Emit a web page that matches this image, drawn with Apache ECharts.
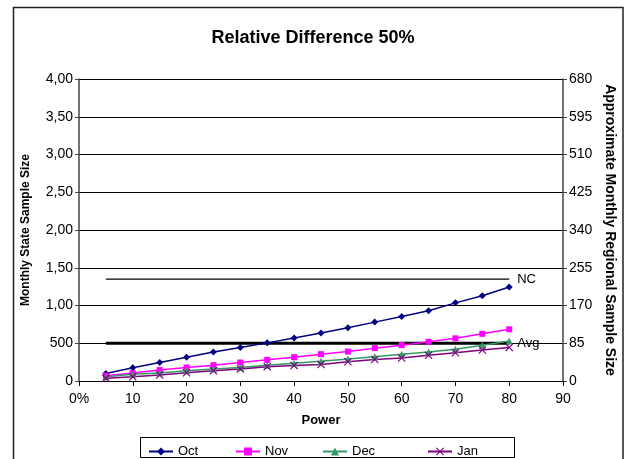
<!DOCTYPE html>
<html>
<head>
<meta charset="utf-8">
<script src="https://cdn.jsdelivr.net/npm/echarts@6/dist/echarts.min.js"></script>
<style>
  html, body { margin: 0; padding: 0; background: #fff; }
  #main { width: 626px; height: 459px; }
</style>
</head>
<body>
<div id="main"></div>
<script>
var myChart = echarts.init(document.getElementById('main'));

// power levels (x) and monthly state sample sizes
var powers = [5, 10, 15, 20, 25, 30, 35, 40, 45, 50, 55, 60, 65, 70, 75, 80];
var oct = [100, 175, 245, 315, 385, 445, 505, 570, 635, 705, 780, 855, 930, 1035, 1130, 1245];
var nov = [70, 105, 145, 180, 210, 245, 280, 315, 355, 390, 435, 475, 520, 565, 625, 685];
var dec = [55, 90, 105, 135, 160, 180, 210, 235, 260, 290, 320, 355, 385, 420, 475, 530];
var jan = [35, 55, 80, 110, 135, 160, 190, 205, 220, 255, 285, 305, 340, 375, 410, 445];
var refRange = [5, 80];
var ncLevel = 1350;
var avgLevel = 500;

// tick labels as printed (left ones are cut off in the original)
var leftTicks = ['0', '500', '1,00', '1,50', '2,00', '2,50', '3,00', '3,50', '4,00'];
var xTicks = ['0%', '10', '20', '30', '40', '50', '60', '70', '80', '90'];
var months = ['Oct', 'Nov', 'Dec', 'Jan'];

var pairs = function (ys) {
  return powers.map(function (p, i) { return [p, ys[i]]; });
};

var font = 'Liberation Sans, Arial, sans-serif';
var xMark = 'path://M0,1L1,0L5,4L9,0L10,1L6,5L10,9L9,10L5,6L1,10L0,9L4,5Z';

var monthSeries = function (name, ys, color, symbol, size) {
  return {
    name: name,
    type: 'line',
    data: pairs(ys),
    symbol: symbol,
    symbolSize: size,
    showSymbol: true,
    lineStyle: { color: color, width: 1.5 },
    itemStyle: { color: color },
    z: 3
  };
};

var refSeries = function (name, level, width) {
  return {
    name: name,
    type: 'line',
    data: [[refRange[0], level], [refRange[1], level]],
    symbol: 'none',
    silent: true,
    lineStyle: { color: '#000', width: width },
    endLabel: {
      show: true,
      formatter: name,
      color: '#000',
      fontFamily: font,
      fontSize: 13,
      distance: 8
    },
    z: 2
  };
};

// one legend per month so each entry sits where it does in the picture
var legendLeft = [143, 230, 317, 422];
var legends = months.map(function (m, i) {
  return {
    left: legendLeft[i],
    top: 440,
    itemWidth: 24,
    itemHeight: 10,
    textStyle: { fontFamily: font, fontSize: 13, color: '#000' },
    data: [m]
  };
});

option = {
  animation: false,
  backgroundColor: '#fff',
  title: {
    text: 'Relative Difference 50%',
    left: 'center',
    top: 24,
    textStyle: { fontFamily: font, fontSize: 18, fontWeight: 'bold', color: '#000' }
  },
  legend: legends,
  grid: { left: 79, right: 63, top: 79, bottom: 78 },
  xAxis: {
    type: 'value',
    min: 0,
    max: 90,
    interval: 10,
    name: 'Power',
    nameLocation: 'middle',
    nameGap: 33,
    nameTextStyle: { fontFamily: font, fontSize: 13, fontWeight: 'bold', color: '#000' },
    axisLine: { lineStyle: { color: '#000', width: 1 } },
    axisTick: { show: true, length: 5, lineStyle: { color: '#000' } },
    axisLabel: {
      fontFamily: font, fontSize: 14, color: '#000', margin: 11,
      formatter: function (v) { return xTicks[v / 10]; }
    },
    splitLine: { show: false }
  },
  yAxis: [
    {
      type: 'value',
      min: 0,
      max: 4000,
      interval: 500,
      name: 'Monthly State Sample Size',
      nameLocation: 'middle',
      nameGap: 47,
      nameTextStyle: { fontFamily: font, fontSize: 12, fontWeight: 'bold', color: '#000' },
      axisLine: { show: true, lineStyle: { color: '#444', width: 1.5 } },
      axisTick: { show: true, length: 4, lineStyle: { color: '#444' } },
      axisLabel: {
        fontFamily: font, fontSize: 14, color: '#000', margin: 6,
        formatter: function (v) { return leftTicks[v / 500]; }
      },
      splitLine: { show: true, lineStyle: { color: '#000', width: 1 } }
    },
    {
      type: 'value',
      min: 0,
      max: 680,
      interval: 85,
      position: 'right',
      name: 'Approximate Monthly Regional Sample Size',
      nameLocation: 'middle',
      nameGap: 39,
      nameRotate: -90,
      nameTextStyle: { fontFamily: font, fontSize: 14, fontWeight: 'bold', color: '#000' },
      axisLine: { show: true, lineStyle: { color: '#444', width: 1.5 } },
      axisTick: { show: true, length: 4, lineStyle: { color: '#444' } },
      axisLabel: { fontFamily: font, fontSize: 14, color: '#000', margin: 6 },
      splitLine: { show: false }
    }
  ],
  graphic: [
    {
      type: 'rect',
      shape: { x: 13.5, y: 7.5, width: 609.5, height: 470 },
      style: { fill: null, stroke: '#222', lineWidth: 1.5 },
      silent: true,
      z: -1
    },
    {
      type: 'rect',
      shape: { x: 140.5, y: 437.5, width: 374, height: 20 },
      style: { fill: null, stroke: '#000', lineWidth: 1 },
      silent: true
    }
  ],
  series: [
    monthSeries('Oct', oct, '#000080', 'diamond', 7),
    monthSeries('Nov', nov, '#ff00ff', 'rect', 6),
    monthSeries('Dec', dec, '#339966', 'triangle', 7),
    monthSeries('Jan', jan, '#800080', xMark, 8),
    refSeries('NC', ncLevel, 1.2),
    refSeries('Avg', avgLevel, 3)
  ]
};

myChart.setOption(option);
</script>
</body>
</html>
